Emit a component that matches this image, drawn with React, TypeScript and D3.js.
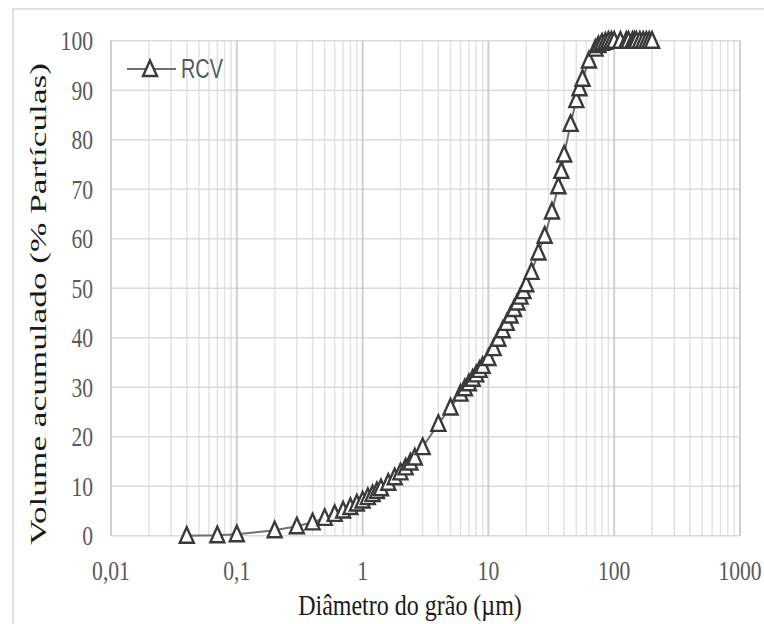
import React from "react";
import * as d3 from "d3";

const diameters = [0.04,0.07,0.1,0.2,0.3,0.4,0.5,0.6,0.7,0.8,0.9,1.0,1.1,1.2,1.3,1.4,1.6,1.8,2.0,2.2,2.4,2.6,3.0,4.0,5.0,6.0,6.5,7.0,7.5,8.0,8.5,9.0,10,11,12,13,14,15,16,17,18,19,20,22,25,28,32,36,38,40,45,50,53,56,63,71,75,80,85,90,95,100,112,125,130,140,145,150,160,170,180,190,200];
const cumulative = [0,0.1,0.3,1.1,1.9,2.7,3.6,4.4,5.1,5.8,6.5,7.1,7.8,8.4,9.0,9.6,10.7,11.8,12.8,13.8,14.8,15.8,17.9,22.6,25.9,28.7,29.8,30.8,31.7,32.6,33.5,34.3,35.9,37.9,39.8,41.5,43.0,44.5,45.8,47.1,48.3,49.4,50.8,53.3,57.2,60.6,65.5,70.6,73.7,77.0,83.2,88.0,90.4,92.3,96.0,98.4,99.1,99.6,99.8,100,100,100,100,100,100,100,100,100,100,100,100,100,100];
const xTickValues = [0.01, 0.1, 1, 10, 100, 1000];
const xTickLabels = ["0,01", "0,1", "1", "10", "100", "1000"];
const yTickValues = [0, 10, 20, 30, 40, 50, 60, 70, 80, 90, 100];
const seriesName = "RCV";
const xTitle = "Diâmetro do grão (µm)";
const yTitle = "Volume acumulado  (% Partículas)";

const W = 764, H = 624;
const L = 111, R = 740, T = 40.7, B = 535.7;
const SQ = 0.8;

export default function App() {
  const x = d3.scaleLog().domain([0.01, 1000]).range([L, R]);
  const y = d3.scaleLinear().domain([0, 100]).range([B, T]);

  const minor: number[] = [];
  for (let e = -2; e < 3; e++) {
    for (let m = 2; m <= 9; m++) minor.push(m * Math.pow(10, e));
  }

  const pts = diameters.map((d, i) => [x(d), y(cumulative[i])] as [number, number]);
  const line = d3.line()(pts) || "";
  const tri = (cx: number, cy: number) =>
    `M${cx},${cy - 8.5}L${cx + 7},${cy + 7}L${cx - 7},${cy + 7}Z`;

  const serif = "'Liberation Serif', 'Times New Roman', serif";
  return (
    <svg width={W} height={H} style={{ position: "absolute", left: 0, top: 0, background: "#fff" }}>
      <rect x={13} y={9} width={900} height={900} fill="#fff" stroke="#d9d9d9" strokeWidth={1.5} />
      {minor.map((v, i) => (
        <line key={"mn" + i} x1={x(v)} x2={x(v)} y1={T} y2={B} stroke="#e2e2e2" strokeWidth={1.5} />
      ))}
      {yTickValues.map((v) => (
        <line key={"h" + v} x1={L} x2={R} y1={y(v)} y2={y(v)} stroke="#dadada" strokeWidth={1.5} />
      ))}
      {xTickValues.map((v) => (
        <line key={"mj" + v} x1={x(v)} x2={x(v)} y1={T} y2={B} stroke="#cfcfcf" strokeWidth={2} />
      ))}
      {yTickValues.map((v) => (
        <text key={"yl" + v} transform={`translate(93,${y(v)}) scale(${SQ},1)`} dy="0.35em"
          textAnchor="end" fontFamily={serif} fontSize={27} fill="#595959">{v}</text>
      ))}
      {xTickValues.map((v, i) => (
        <text key={"xl" + v} transform={`translate(${x(v)},571) scale(${SQ},1)`} dy="0.35em"
          textAnchor="middle" fontFamily={serif} fontSize={27} fill="#595959">{xTickLabels[i]}</text>
      ))}
      <text transform={`translate(410,604) scale(${SQ},1)`} dy="0.35em" textAnchor="middle"
        fontFamily={serif} fontSize={30} fill="#1a1a1a">{xTitle}</text>
      <text transform={`translate(38,304) scale(${SQ},1) rotate(-90)`} dy="0.35em" textAnchor="middle"
        fontFamily={serif} fontSize={29} fill="#1a1a1a" textLength={482} lengthAdjust="spacingAndGlyphs">{yTitle}</text>
      <path d={line} fill="none" stroke="#707070" strokeWidth={2} />
      {pts.map(([cx, cy], i) => (
        <path key={"p" + i} d={tri(cx, cy)} fill="#fff" stroke="#3a3a3a" strokeWidth={2.4} strokeLinejoin="miter" />
      ))}
      <line x1={127} x2={176} y1={69} y2={69} stroke="#707070" strokeWidth={2} />
      <path d={tri(150, 69)} fill="#fff" stroke="#3a3a3a" strokeWidth={2.4} />
      <text x={181} y={69} dy="0.35em" fontFamily="'Liberation Sans', Arial, sans-serif" fontSize={27}
        fill="#595959" textLength={42} lengthAdjust="spacingAndGlyphs">{seriesName}</text>
    </svg>
  );
}
